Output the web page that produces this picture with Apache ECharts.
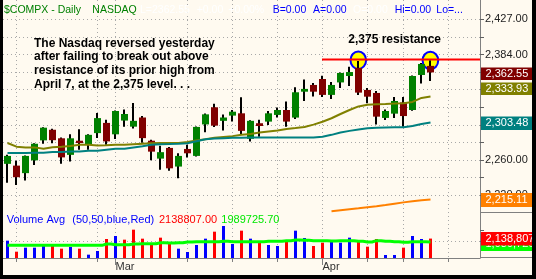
<!DOCTYPE html>
<html><head><meta charset="utf-8">
<script src="https://cdn.jsdelivr.net/npm/echarts@6/dist/echarts.min.js"></script>
<style>html,body{margin:0;padding:0;background:#FFFAF0;}#c{width:536px;height:279px;}</style>
</head><body><div id="c"></div>
<script>
// ---------- data ----------
const dates = ['2006-02-10','2006-02-13','2006-02-14','2006-02-15','2006-02-16','2006-02-17','2006-02-21','2006-02-22','2006-02-23','2006-02-24','2006-02-27','2006-02-28','2006-03-01','2006-03-02','2006-03-03','2006-03-06','2006-03-07','2006-03-08','2006-03-09','2006-03-10','2006-03-13','2006-03-14','2006-03-15','2006-03-16','2006-03-17','2006-03-20','2006-03-21','2006-03-22','2006-03-23','2006-03-24','2006-03-27','2006-03-28','2006-03-29','2006-03-30','2006-03-31','2006-04-03','2006-04-04','2006-04-05','2006-04-06','2006-04-07','2006-04-10','2006-04-11','2006-04-12','2006-04-13','2006-04-17','2006-04-18','2006-04-19','2006-04-20'];
const futureDates = ['2006-04-21','2006-04-24','2006-04-25','2006-04-26','2006-04-27'];
const opens  = [2255.6,2253.6,2245.0,2259.6,2282.6,2294.9,2285.0,2265.9,2282.2,2278.3,2291.0,2302.9,2289.6,2305.6,2298.5,2309.2,2282.2,2261.6,2273.9,2252.5,2272.7,2264.7,2301.1,2321.2,2305.3,2311.4,2314.1,2284.4,2302.5,2304.4,2312.2,2318.0,2309.1,2339.6,2347.6,2354.7,2335.8,2350.6,2358.3,2367.9,2341.7,2338.1,2308.7,2313.7,2326.9,2318.0,2359.5,2370.4];
const highs  = [2265.9,2259.2,2265.3,2279.3,2297.9,2296.1,2286.0,2289.8,2295.5,2289.6,2314.5,2306.5,2317.4,2318.6,2326.3,2310.9,2283.4,2276.3,2274.8,2267.7,2277.5,2298.7,2313.9,2325.2,2312.6,2318.0,2333.1,2305.9,2306.5,2316.8,2320.8,2327.9,2344.9,2354.2,2350.0,2358.6,2351.2,2362.4,2369.4,2376.3,2344.0,2340.5,2318.6,2333.4,2333.4,2358.9,2373.9,2376.9];
const lows   = [2234.2,2231.5,2236.6,2254.4,2278.7,2279.3,2255.6,2258.4,2271.8,2271.8,2285.4,2277.5,2284.2,2298.5,2296.4,2279.9,2259.8,2248.9,2247.7,2239.3,2263.0,2264.1,2291.9,2298.2,2294.0,2304.4,2289.0,2281.3,2286.9,2300.5,2309.1,2298.5,2307.5,2328.6,2334.0,2333.4,2331.0,2344.0,2346.4,2335.8,2325.9,2300.9,2306.4,2308.7,2298.5,2317.2,2349.4,2352.4];
const closes = [2264.7,2240.4,2264.7,2278.7,2297.3,2282.8,2263.0,2285.0,2279.5,2289.0,2308.5,2281.4,2316.8,2313.3,2305.3,2285.2,2269.6,2269.0,2250.5,2264.7,2267.7,2298.2,2312.9,2299.7,2309.2,2316.0,2293.6,2305.3,2299.3,2314.1,2318.0,2304.4,2338.9,2342.9,2339.6,2335.8,2347.6,2361.9,2363.0,2338.5,2333.7,2310.2,2316.8,2328.6,2310.9,2358.3,2372.7,2362.55];
const maOlive = [2279.5,2275.3,2274.5,2274.5,2273.0,2274.7,2275.3,2276.0,2277.5,2277.5,2276.8,2277.0,2277.5,2277.5,2278.1,2278.7,2279.3,2279.5,2279.5,2279.5,2280.6,2282.5,2283.8,2285.5,2286.6,2287.5,2289.0,2290.0,2291.6,2293.0,2294.1,2295.9,2297.0,2298.2,2300.9,2304.2,2308.3,2313.3,2318.0,2322.2,2324.2,2324.8,2325.1,2325.5,2326.0,2327.5,2332.2,2333.93];
const maTeal = [2267.9,2267.9,2267.9,2268.3,2268.3,2269.1,2269.1,2269.8,2269.8,2270.6,2270.6,2271.8,2272.9,2272.9,2274.4,2275.8,2277.5,2278.1,2278.3,2278.7,2279.3,2281.6,2283.8,2284.7,2285.1,2285.5,2285.7,2285.8,2285.8,2285.8,2285.8,2285.8,2285.8,2285.8,2285.8,2286.7,2289.0,2291.8,2293.6,2295.3,2296.7,2297.1,2297.4,2297.7,2297.9,2299.3,2301.7,2303.48];
const maOrangeDates = ['2006-04-04','2006-04-05','2006-04-06','2006-04-07','2006-04-10','2006-04-11','2006-04-12','2006-04-13','2006-04-17','2006-04-18','2006-04-19','2006-04-20'];
const maOrange = [2202.0,2203.1,2204.2,2205.3,2206.5,2207.6,2209.0,2210.5,2212.0,2213.2,2214.3,2215.11];
const volumes = [2046000,1555000,1734000,1734000,1897000,1897000,1689000,1764000,1689000,1422000,1585000,2120000,2254000,2091000,2537000,2135000,1853000,2180000,1957000,1689000,1541000,1853000,2135000,2447000,2700000,1897000,2492000,2135000,1942000,1853000,1808000,1987000,2492000,2165000,1808000,1957000,2046000,1957000,2180000,1987000,1778000,2120000,1407000,1407000,1734000,2254000,2120000,2138807];
const volumeAvg = [1838000,1838000,1838000,1838000,1838000,1838000,1838000,1838000,1838000,1838000,1838000,1897000,1868000,1868000,1897000,1912000,1912000,1957000,1942000,1957000,1987000,2001000,2001000,2001000,2016000,2001000,2001000,2001000,2001000,2016000,2016000,2046000,2076000,2061000,2046000,2046000,2031000,2046000,2046000,2016000,1987000,2046000,2016000,2001000,1972000,2001000,2001000,1989725.70];
const priceGridValues = [2427,2405.46,2384.11,2362.95,2341.98,2321.19,2300.59,2280.17,2259.93,2239.87,2219.99];
const priceLabelValues = [2427,2384.11,2341.98,2300.59,2259.93,2219.99];
const priceLabelTexts = ['2,427.00','2,384.00','2,342.00','2,301.00','2,260.00','2,220.00'];
const volumeTickValues = [2000000,2500000];
const volumeGridValue = 2000000;
const weekTickDates = ['2006-02-13','2006-02-27','2006-03-13','2006-03-20','2006-03-27','2006-04-03','2006-04-10','2006-04-17','2006-04-24'];
const monthTickDates = ['2006-03-01','2006-04-03'];
const monthTickLabels = ['Mar','Apr'];
const resistanceLevel = 2375;

// ---------- helpers ----------
const FONT = 'Liberation Sans, Arial, sans-serif';
const axisDates = dates.concat(futureDates);
const weekSet = new Set(weekTickDates);
const monthSet = new Set(monthTickDates);
const gridSet = new Set(weekTickDates.concat(monthTickDates));
const fmt2 = v => v.toLocaleString('en-US',{minimumFractionDigits:2,maximumFractionDigits:2});
const fmt0 = v => Math.round(v).toLocaleString('en-US');
const GRID = '#A8A8A8';
const AXIS = '#808080';

const candleData = dates.map((d,i)=>[i, opens[i], closes[i], lows[i], highs[i]]);
const volData = volumes.map((v,i)=>({value:v, itemStyle:{color: (i===0 ? closes[i]>=opens[i] : closes[i]>=closes[i-1]) ? '#0000FF' : '#FF0000'}}));

function txt(x,y,s,color,font,z){
  return {type:'text', x:x, y:y, z:z||100, style:{text:s, fill:color, font:font, textAlign:'left', textVerticalAlign:'middle', align:'left', verticalAlign:'middle'}};
}

const chart = echarts.init(document.getElementById('c'), null, {renderer:'canvas'});
const hdr = '10.5px ' + FONT;
const boxes = [
  {y:67.5, h:12.5, fill:'#800000', text: fmt2(closes[closes.length-1])},
  {y:82.5, h:12.5, fill:'#808000', text: fmt2(maOlive[maOlive.length-1])},
  {y:116.5, h:13.5, fill:'#008080', text: fmt2(maTeal[maTeal.length-1])},
  {y:193, h:14, fill:'#FF8000', text: fmt2(maOrange[maOrange.length-1])},
  {y:237.5, h:13.5, fill:'#00FF00', text: fmt0(volumeAvg[volumeAvg.length-1])},
  {y:232, h:13.5, fill:'#FF0000', text: fmt0(volumes[volumes.length-1])}
];
const graphics = [];
boxes.forEach((b,k)=>{
  graphics.push({type:'rect', z:110 + 2*k, shape:{x:481, y:b.y, width:51, height:b.h}, style:{fill:b.fill}});
  graphics.push(txt(485.5, b.y + b.h/2, b.text, '#FFFFFF', '11px ' + FONT, 111 + 2*k));
});
// highlighted highs (under candles)
graphics.push({type:'ellipse', z:1, shape:{cx:358.3, cy:60.2, rx:7.8, ry:8.8}, style:{fill:'#FFFF00', stroke:'#0000FF', lineWidth:2}});
graphics.push({type:'ellipse', z:1, shape:{cx:430.4, cy:60.5, rx:7.8, ry:8.8}, style:{fill:'#FFFF00', stroke:'#0000FF', lineWidth:2}});
graphics.push({type:'line', z:1.5, shape:{x1:322, y1:59.5, x2:480, y2:59.5}, style:{stroke:'#FF0000', lineWidth:2}});
// texts
graphics.push(txt(348.3, 39.2, fmt0(resistanceLevel) + ' resistance', '#000000', 'bold 12px ' + FONT));
const note = ['The Nasdaq reversed yesterday','after failing to break out above','resistance of its prior high from','April 7, at the 2,375 level. . .'];
const noteY = [43.2, 57, 70.6, 84.3];
note.forEach((s,i)=>graphics.push(txt(34, noteY[i], s, '#000000', 'bold 12px ' + FONT)));
graphics.push(txt(4, 10, '$COMPX - Daily', '#008000', hdr));
graphics.push(txt(92.3, 10, 'NASDAQ', '#008000', hdr));
graphics.push(txt(140, 10, 'L=' + closes[closes.length-1].toFixed(2), '#FFFFFF', hdr));
graphics.push(txt(196.7, 10, '+0.00', '#FFFFFF', hdr));
graphics.push(txt(228.3, 10, '+0.00%', '#FFFFFF', hdr));
graphics.push(txt(272.7, 10, 'B=0.00', '#0000FF', hdr));
graphics.push(txt(313, 10, 'A=0.00', '#0000FF', hdr));
graphics.push(txt(353, 10, 'O=0.00', '#FFFFFF', hdr));
graphics.push(txt(394.7, 10, 'Hi=0.00', '#0000FF', hdr));
graphics.push(txt(436.3, 10, 'Lo=...', '#0000FF', hdr));
graphics.push(txt(6.7, 220, 'Volume Avg', '#0000FF', '11px ' + FONT));
graphics.push(txt(72.3, 220, '(50,50,blue,Red)', '#0000FF', '11px ' + FONT));
graphics.push(txt(159, 220, volumes[volumes.length-1].toFixed(2), '#FF0000', '11px ' + FONT));
graphics.push(txt(221.3, 220, volumeAvg[volumeAvg.length-1].toFixed(2), '#00E800', '11px ' + FONT));
// axis frame extensions
graphics.push({type:'line', z:105, shape:{x1:480, y1:212.5, x2:532, y2:212.5}, style:{stroke:AXIS, lineWidth:1}});
graphics.push({type:'line', z:105, shape:{x1:480, y1:257.5, x2:532, y2:257.5}, style:{stroke:AXIS, lineWidth:1}});
// black frame
graphics.push({type:'rect', z:200, shape:{x:0, y:0, width:3, height:279}, style:{fill:'#000'}});
graphics.push({type:'rect', z:200, shape:{x:532, y:0, width:4, height:279}, style:{fill:'#000'}});
graphics.push({type:'rect', z:200, shape:{x:0, y:275, width:536, height:4}, style:{fill:'#000'}});

const gridIntervalFn = (idx, val) => gridSet.has(val);
const splitLineCfg = {show:true, interval: gridIntervalFn, alignWithLabel:true, lineStyle:{color:GRID, width:1, type:[1,3]}};

chart.setOption({
  animation:false,
  backgroundColor:'#FFFAF0',
  grid:[
    {left:3, top:0, width:477, height:212},
    {left:3, top:212, width:477, height:46}
  ],
  xAxis:[
    {gridIndex:0, type:'category', data:axisDates, boundaryGap:true, axisLine:{show:false}, axisTick:{show:false}, axisLabel:{show:false}, splitLine:splitLineCfg},
    {gridIndex:1, type:'category', data:axisDates, boundaryGap:true, position:'bottom',
      axisLine:{show:true, lineStyle:{color:AXIS, width:1}},
      axisTick:{show:true, alignWithLabel:true, interval:(i,v)=>weekSet.has(v), length:4, lineStyle:{color:AXIS}},
      axisLabel:{show:true, interval:(i,v)=>monthSet.has(v), formatter:v=>monthTickLabels[monthTickDates.indexOf(v)] || '', align:'left', margin:3, color:'#333333', fontSize:11, fontFamily:FONT},
      splitLine:splitLineCfg},
    {gridIndex:1, type:'category', data:axisDates, boundaryGap:true, position:'bottom',
      axisLine:{show:false}, axisTick:{show:true, alignWithLabel:true, interval:(i,v)=>monthSet.has(v), length:7, lineStyle:{color:AXIS}},
      axisLabel:{show:false}, splitLine:{show:false}}
  ],
  yAxis:[
    {gridIndex:0, type:'log', logBase:10, min:2201.24, max:2450.85, position:'right',
      axisLine:{show:true, lineStyle:{color:AXIS, width:1}},
      axisTick:{show:true, customValues:priceGridValues, length:4, lineStyle:{color:'#606060'}},
      axisLabel:{show:true, customValues:priceLabelValues, margin:5, color:'#222222', fontSize:11, fontFamily:FONT,
        formatter:v=>{let b=0; priceLabelValues.forEach((p,i)=>{ if(Math.abs(p-v)<Math.abs(priceLabelValues[b]-v)) b=i; }); return priceLabelTexts[b];}},
      splitLine:{show:true, lineStyle:{color:GRID, width:1, type:[1,3]}}},
    {gridIndex:1, type:'value', min:1273020, max:3324620, position:'right',
      axisLine:{show:true, lineStyle:{color:AXIS, width:1}},
      axisTick:{show:true, customValues:volumeTickValues, length:4, lineStyle:{color:'#606060'}},
      axisLabel:{show:false}, splitLine:{show:false}}
  ],
  series:[
    {type:'custom', name:'price', xAxisIndex:0, yAxisIndex:0, z:3, clip:true,
      data:candleData, encode:{x:0, y:[1,2,3,4]},
      renderItem:(params, api)=>{
        const i = api.value(0), o = api.value(1), c = api.value(2), l = api.value(3), h = api.value(4);
        const pO = api.coord([i,o]), pC = api.coord([i,c]), pL = api.coord([i,l]), pH = api.coord([i,h]);
        const cx = pO[0];
        const top = Math.min(pO[1], pC[1]), bot = Math.max(pO[1], pC[1]);
        return {type:'group', children:[
          {type:'rect', shape:{x:Math.floor(cx)-1, y:pH[1], width:2, height:pL[1]-pH[1]}, style:{fill:'#000000'}},
          {type:'rect', shape:{x:Math.round(cx-3.5), y:top, width:7, height:Math.max(bot-top,1.5)}, style:{fill: c>=o ? '#008000' : '#800000'}}
        ]};
      }},
    {type:'line', name:'maOlive', xAxisIndex:0, yAxisIndex:0, z:4, data:maOlive, symbol:'none', lineStyle:{color:'#808000', width:2}, itemStyle:{color:'#808000'}},
    {type:'line', name:'maTeal', xAxisIndex:0, yAxisIndex:0, z:4, data:maTeal, symbol:'none', lineStyle:{color:'#008080', width:2}, itemStyle:{color:'#008080'}},
    {type:'line', name:'maOrange', xAxisIndex:0, yAxisIndex:0, z:4, data:maOrange.map((v,i)=>[maOrangeDates[i], v]), symbol:'none', lineStyle:{color:'#FF8000', width:2}, itemStyle:{color:'#FF8000'}},
    {type:'bar', name:'volume', xAxisIndex:1, yAxisIndex:1, z:2, data:volData, barWidth:3, clip:true},
    {type:'line', name:'volumeAvg', xAxisIndex:1, yAxisIndex:1, z:3, data:volumeAvg, symbol:'none', step:'middle', lineStyle:{color:'#00FF00', width:3}, itemStyle:{color:'#00FF00'},
      markLine:{silent:true, symbol:'none', label:{show:false}, lineStyle:{color:GRID, width:1, type:[1,3]}, data:[{yAxis:volumeGridValue}], z:1}}
  ],
  graphic:{elements:graphics}
});
</script></body></html>
